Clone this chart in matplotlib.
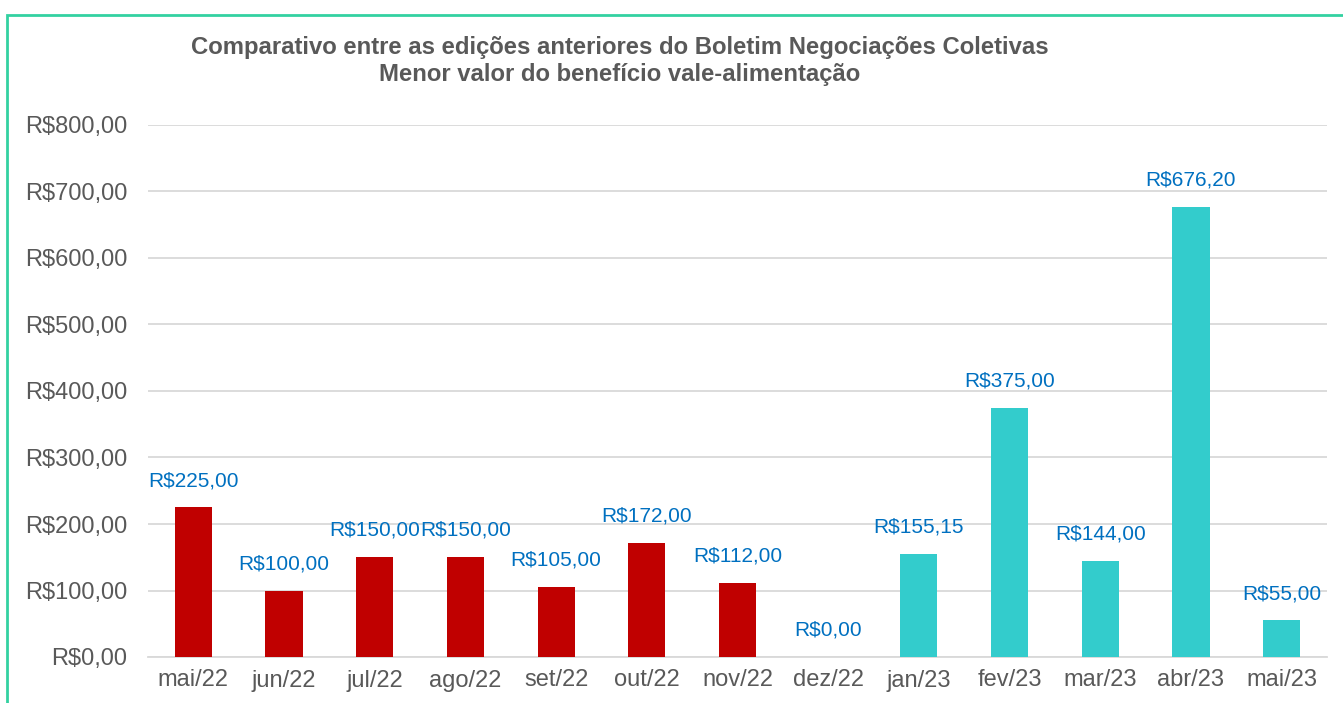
import matplotlib
matplotlib.use("Agg")
import matplotlib.pyplot as plt
from matplotlib.patches import Rectangle

months = ["mai/22", "jun/22", "jul/22", "ago/22", "set/22", "out/22", "nov/22",
          "dez/22", "jan/23", "fev/23", "mar/23", "abr/23", "mai/23"]
values = [225.00, 100.00, 150.00, 150.00, 105.00, 172.00, 112.00,
          0.00, 155.15, 375.00, 144.00, 676.20, 55.00]
years = ["22", "22", "22", "22", "22", "22", "22", "22", "23", "23", "23", "23", "23"]
yticks = [0, 100, 200, 300, 400, 500, 600, 700, 800]

RED = "#C00000"
CYAN = "#33CCCC"
LABEL_BLUE = "#0070C0"
GRAY = "#595959"


def brl(v):
    s = f"{v:,.2f}".replace(",", "X").replace(".", ",").replace("X", ".")
    return "R$" + s


plt.rcParams["font.family"] = ["Liberation Sans", "DejaVu Sans"]

fig = plt.figure(figsize=(13.43, 7.03), dpi=100)
ax = fig.add_axes([148 / 1343, 1 - 657 / 703, (1327 - 148) / 1343, (657 - 125) / 703])

colors = [RED if y == "22" else CYAN for y in years]
x = list(range(len(months)))
ax.bar(x, values, width=0.41, color=colors, zorder=3)

for xi, v in zip(x, values):
    ax.annotate(brl(v), (xi, v), xytext=(0, 12.5), textcoords="offset points",
                ha="center", va="bottom", fontsize=15, color=LABEL_BLUE)

ax.set_xlim(-0.5, len(months) - 0.5)
ax.set_ylim(0, 800)
ax.set_yticks(yticks)
ax.set_yticklabels([brl(v) for v in yticks])
ax.set_xticks(x)
ax.set_xticklabels(months)
ax.tick_params(axis="both", length=0, labelsize=17, colors=GRAY)
ax.tick_params(axis="y", pad=15)
ax.tick_params(axis="x", pad=9)
ax.grid(axis="y", color="#D9D9D9", linewidth=1.3, zorder=0)
for side in ["top", "right", "left"]:
    ax.spines[side].set_visible(False)
ax.spines["bottom"].set_color("#D9D9D9")
ax.spines["bottom"].set_linewidth(1.3)

fig.text(620 / 1343, 1 - 61 / 703,
         "Comparativo entre as edições anteriores do Boletim Negociações Coletivas\n"
         "Menor valor do benefício vale-alimentação",
         ha="center", va="center", fontsize=17.2, fontweight="bold", color=GRAY,
         linespacing=1.25)

fig.patches.append(Rectangle((7 / 1343, -0.05), 1.1, 1 - 15 / 703 + 0.05,
                             transform=fig.transFigure, fill=False,
                             edgecolor="#33D1A1", linewidth=2))

fig.savefig("out.png", dpi=100)
